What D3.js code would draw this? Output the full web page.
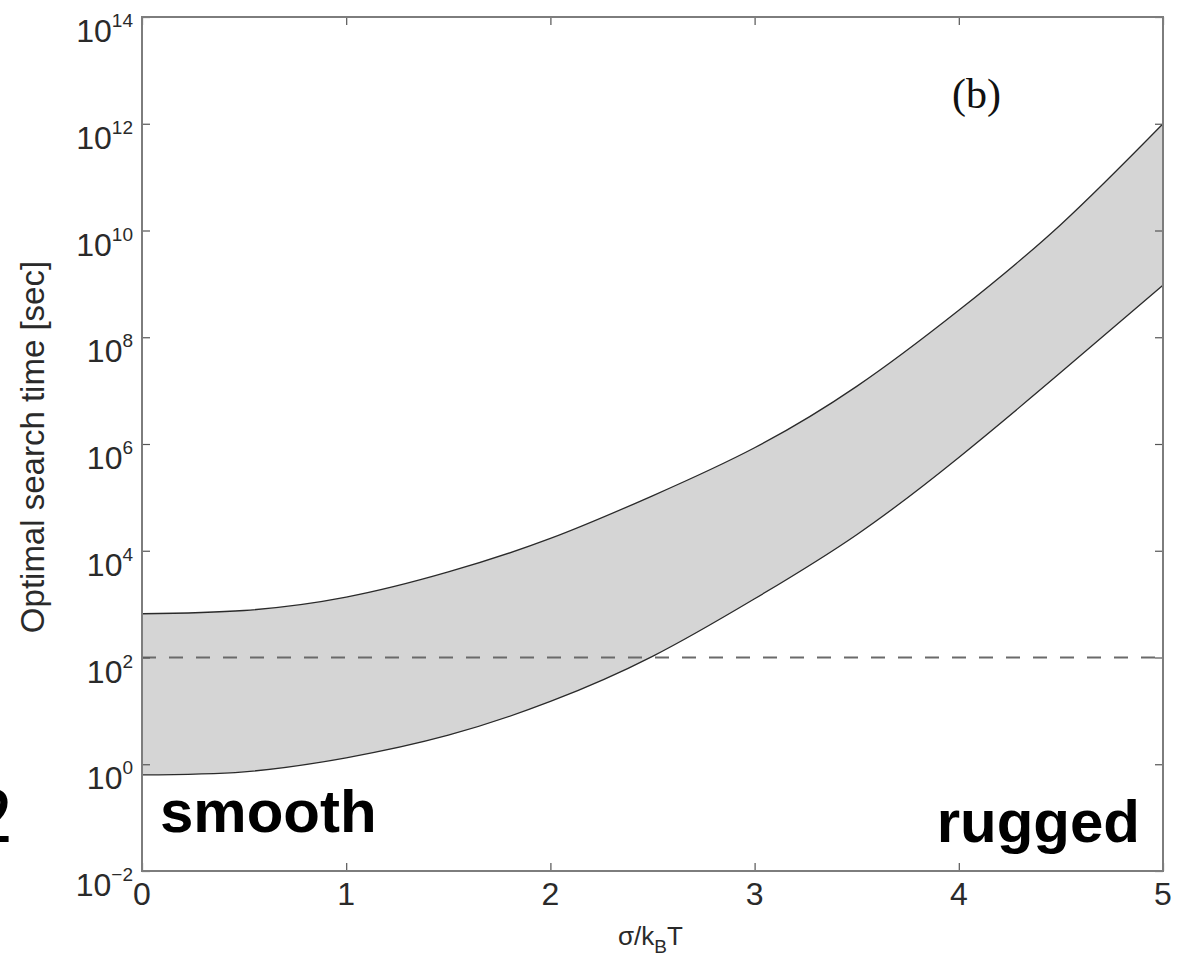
<!DOCTYPE html>
<html>
<head>
<meta charset="utf-8">
<script src="https://cdn.jsdelivr.net/npm/d3@7"></script>
<style>
  body { margin: 0; background: #fff; }
  svg { display: block; }
</style>
</head>
<body>
<svg width="1186" height="963"></svg>
<script>
// sigma/kT on the x axis, search time bounds in seconds
var sigma = [0, 0.5, 1, 1.5, 2, 2.5, 3, 3.5, 4, 4.5, 5];
var tUpper = [6.6e2, 7.6e2, 1.35e3, 4.0e3, 1.7e4, 1.07e5, 8.5e5, 1.2e7, 3.2e8, 1.3e10, 1e12];
var tLower = [0.63, 0.72, 1.32, 3.5, 15, 105, 1.26e3, 2.0e4, 5.6e5, 2.2e7, 9.5e8];
var refTime = 1e2;

var xTicks = [0, 1, 2, 3, 4, 5];
var yExps = [-2, 0, 2, 4, 6, 8, 10, 12, 14];

function drawChart() {
    var svg = d3.select("svg"),
        pL = 142, pR = 1163, pT = 17, pB = 871;

    var x = d3.scaleLinear().domain([0, 5]).range([pL, pR]);
    var y = d3.scaleLog().domain([1e-2, 1e14]).range([pB, pT]);

    var data = sigma.map(function (s, i) {
        return { s: s, hi: tUpper[i], lo: tLower[i] };
    });

    // shaded band
    svg.append("path")
        .datum(data)
        .attr("fill", "#d5d5d5")
        .attr("d", d3.area()
            .x(function (d) { return x(d.s); })
            .y0(function (d) { return y(d.lo); })
            .y1(function (d) { return y(d.hi); })
            .curve(d3.curveNatural));

    ["hi", "lo"].forEach(function (k) {
        svg.append("path")
            .datum(data)
            .attr("fill", "none")
            .attr("stroke", "#2a2a2a")
            .attr("stroke-width", 1.3)
            .attr("d", d3.line()
                .x(function (d) { return x(d.s); })
                .y(function (d) { return y(d[k]); })
                .curve(d3.curveNatural));
    });

    // dashed reference at 100 sec
    svg.append("line")
        .attr("x1", x(0)).attr("x2", x(5))
        .attr("y1", y(refTime)).attr("y2", y(refTime))
        .attr("stroke", "#6a6a6a")
        .attr("stroke-width", 1.8)
        .attr("stroke-dasharray", "14,13");

    var yVals = yExps.map(function (e) { return Math.pow(10, e); });

    // ticks on all four sides, pointing in
    svg.append("g").attr("transform", "translate(0," + pB + ")")
        .call(d3.axisBottom(x).tickValues(xTicks).tickSize(-8).tickFormat(""));
    svg.append("g").attr("transform", "translate(0," + pT + ")")
        .call(d3.axisTop(x).tickValues(xTicks).tickSize(-8).tickFormat(""));
    svg.append("g").attr("transform", "translate(" + pL + ",0)")
        .call(d3.axisLeft(y).tickValues(yVals).tickSize(-8).tickFormat(""));
    svg.append("g").attr("transform", "translate(" + pR + ",0)")
        .call(d3.axisRight(y).tickValues(yVals).tickSize(-8).tickFormat(""));

    svg.selectAll(".domain").remove();
    svg.selectAll(".tick line").attr("stroke", "#555").attr("stroke-width", 1.2);

    svg.append("rect")
        .attr("x", pL).attr("y", pT)
        .attr("width", pR - pL).attr("height", pB - pT)
        .attr("fill", "none")
        .attr("stroke", "#7d7d7d")
        .attr("stroke-width", 2);

    // tick labels
    svg.selectAll(".xlab")
        .data(xTicks)
        .enter().append("text")
        .attr("x", function (d) { return x(d); })
        .attr("y", pB + 34)
        .attr("text-anchor", "middle")
        .attr("font-family", "Liberation Sans, Arial, sans-serif")
        .attr("font-size", 32)
        .attr("fill", "#2a2a2a")
        .text(function (d) { return d; });

    var ylab = svg.selectAll(".ylab")
        .data(yExps)
        .enter().append("text")
        .attr("x", pL - 9)
        .attr("y", function (d) { return y(Math.pow(10, d)) + 25; })
        .attr("text-anchor", "end")
        .attr("font-family", "Liberation Sans, Arial, sans-serif")
        .attr("fill", "#2a2a2a");
    ylab.append("tspan").attr("font-size", 32).text("10");
    ylab.append("tspan")
        .attr("font-size", 19)
        .attr("dy", -15)
        .text(function (d) { return d < 0 ? "\u2212" + (-d) : d; });

    // axis titles
    var xt = svg.append("text")
        .attr("x", (pL + pR) / 2 - 2)
        .attr("y", pB + 74)
        .attr("text-anchor", "middle")
        .attr("font-family", "Liberation Sans, Arial, sans-serif")
        .attr("font-size", 26)
        .attr("fill", "#2a2a2a");
    xt.append("tspan").text("\u03c3/k");
    xt.append("tspan").attr("font-size", 19).attr("dy", 8).text("B");
    xt.append("tspan").attr("dy", -8).text("T");

    svg.append("text")
        .attr("transform", "translate(44," + ((pT + pB) / 2 + 3) + ") rotate(-90)")
        .attr("text-anchor", "middle")
        .attr("font-family", "Liberation Sans, Arial, sans-serif")
        .attr("font-size", 33)
        .attr("fill", "#2a2a2a")
        .text("Optimal search time [sec]");

    // annotations
    svg.append("text")
        .attr("x", 952).attr("y", 108)
        .attr("font-family", "Liberation Serif, Times New Roman, serif")
        .attr("font-size", 42)
        .attr("fill", "#111")
        .text("(b)");

    svg.append("text")
        .attr("x", 160).attr("y", 832)
        .attr("font-family", "Liberation Sans, Arial, sans-serif")
        .attr("font-weight", "bold")
        .attr("font-size", 60)
        .text("smooth");

    svg.append("text")
        .attr("x", 1140).attr("y", 842)
        .attr("text-anchor", "end")
        .attr("font-family", "Liberation Sans, Arial, sans-serif")
        .attr("font-weight", "bold")
        .attr("font-size", 60)
        .text("rugged");

    // edge of a neighbouring panel label, cut off at the left
    svg.append("text")
        .attr("x", -27).attr("y", 842)
        .attr("font-family", "Liberation Serif, Times New Roman, serif")
        .attr("font-size", 80)
        .text("2");
}

drawChart();
</script>
</body>
</html>
